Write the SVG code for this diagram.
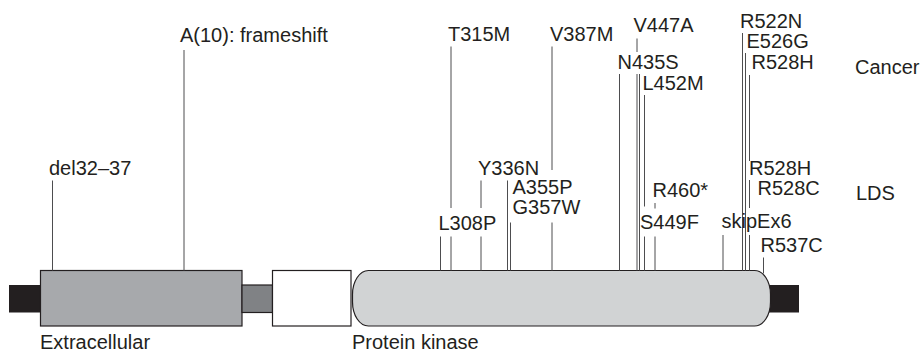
<svg xmlns="http://www.w3.org/2000/svg" width="920" height="354" viewBox="0 0 920 354">
<style>
text{font-family:"Liberation Sans",Arial,sans-serif;font-size:20px;fill:#231f20}
.ln{stroke:#4d4d4f;stroke-width:1;fill:none}
.dom{stroke:#231f20;stroke-width:1.2}
</style>
<rect width="920" height="354" fill="#fff"/>
<g id="cap-left"><rect x="9" y="285" width="32" height="27.5" fill="#231f20"/></g>
<g id="extracellular"><rect class="dom" x="40.5" y="270.5" width="201.5" height="55.5" fill="#a7a9ac"/><text x="40" y="349">Extracellular</text></g>
<g id="transmembrane"><rect class="dom" x="242" y="285" width="30.5" height="27.5" fill="#808285"/></g>
<g id="juxta"><rect class="dom" x="272.5" y="270.5" width="78.5" height="55.5" fill="#fff"/></g>
<g id="cap-right"><rect x="769" y="285" width="30" height="27.5" fill="#231f20"/></g>
<g id="kinase"><rect class="dom" x="352.5" y="270.5" width="418" height="55.5" rx="16" ry="24" fill="#d1d3d4"/><text x="352" y="349">Protein kinase</text></g>
<g id="connectors">
<path class="ln" d="M52.5 180.5V270.5M184 50V270.5M440.5 236.5V270.5M451 46.5V208M451 236.5V270.5M481 180.5V208M481 236.5V270.5M507.5 180.5V270.5M510.5 222.5V270.5M552 46.5V170M552 222.5V270.5M619.5 74V270.5M637 38.5V52M637 74V270.5M639.5 74V270.5M644.5 95V206.5M644.5 236.5V270.5M655 203V208.5M655 236.5V270.5M723 235V270.5M742.5 33V270.5M745.5 53V270.5M749.5 75V161M749.5 180V208M749.5 235V270.5M763.5 257.5V273.5"/>
</g>
<g id="labels">
<text x="180" y="41.5">A(10): frameshift</text>
<text x="49" y="175">del32–37</text>
<text x="448" y="40.7">T315M</text>
<text x="550" y="40.7">V387M</text>
<text x="478" y="175">Y336N</text>
<text x="512.5" y="194">A355P</text>
<text x="512.5" y="214">G357W</text>
<text x="438.5" y="230">L308P</text>
<text x="633.5" y="31.5">V447A</text>
<text x="617.5" y="68.5">N435S</text>
<text x="642.5" y="90">L452M</text>
<text x="652.5" y="196.5">R460*</text>
<text x="640" y="229">S449F</text>
<text x="740" y="28">R522N</text>
<text x="746.5" y="48">E526G</text>
<text x="751.5" y="69">R528H</text>
<text x="855" y="74">Cancer</text>
<text x="749" y="175">R528H</text>
<text x="757.5" y="195">R528C</text>
<text x="856" y="200">LDS</text>
<text x="721.5" y="228">skipEx6</text>
<text x="760.5" y="251.5">R537C</text>
</g>
</svg>
